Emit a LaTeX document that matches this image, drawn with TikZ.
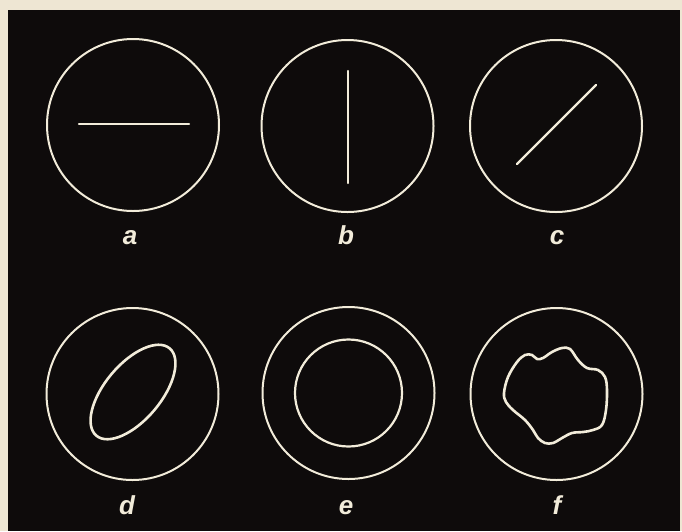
\documentclass[tikz,border=0pt]{standalone}
\usepackage{fontspec}
\setmainfont{Liberation Sans}
\definecolor{paper}{HTML}{EEE6D3}
\definecolor{board}{HTML}{0E0B0B}
\definecolor{chalk}{HTML}{F2ECDA}
\tikzset{
  scope/.style={circle, draw=chalk, line width=2pt, minimum size=172pt, inner sep=0pt},
  trace/.style={draw=chalk, line width=2.2pt, line cap=round},
  blobline/.style={draw=chalk, line width=2.6pt, line join=round},
  lbl/.style={text=chalk, font=\fontsize{26}{30}\selectfont\bfseries\itshape, anchor=base, inner sep=0pt}
}
\begin{document}
\begin{tikzpicture}[x=1pt,y=-1pt]
\useasboundingbox (0,0) rectangle (682,531);
\fill[paper] (0,0) rectangle (682,531);
\fill[board] (8,10) rectangle (680,531);
% row 1
\node[scope] (ca) at (133,125) {};
\node[scope] (cb) at (347.5,126) {};
\node[scope] (cc) at (556,126) {};
\coordinate (a1) at (79,124);
\coordinate (a2) at (189,124);
\draw[trace] (a1) -- (a2);
\coordinate (b1) at (348,71);
\coordinate (b2) at (348,183);
\draw[trace] (b1) -- (b2);
\coordinate (c1) at (517,164);
\coordinate (c2) at (596,85);
\draw[trace] (c1) -- (c2);
\node[lbl] (la) at (130,244) {a};
\node[lbl] (lb) at (346,244) {b};
\node[lbl] (lc) at (557,244) {c};
% row 2
\node[scope] (cd) at (132.5,394) {};
\node[scope] (ce) at (348.5,393) {};
\node[scope] (cf) at (556.5,394) {};
\draw[blobline, rotate around={50:(133,392)}] (133,392) ellipse [x radius=57, y radius=28];
\node[circle, draw=chalk, line width=2.2pt, minimum size=107pt, inner sep=0pt] (ie) at (348.5,393) {};
\draw[blobline] plot[smooth cycle, tension=0.6] coordinates {
 (504,393) (508,377) (517,362) (525,355) (532,355) (537,359) (543,358)
 (552,352) (562,348) (570,349) (578,360) (587,368) (598,370) (605,377)
 (607,390) (606,410) (602,425) (593,430) (583,432) (572,433) (562,438)
 (553,443) (545,443) (538,438) (533,430) (525,420) (513,410) (506,402)};
\node[lbl] (ld) at (127,514) {d};
\node[lbl] (le) at (346,514) {e};
\node[lbl] (lf) at (557,514) {f};
\end{tikzpicture}
\end{document}
